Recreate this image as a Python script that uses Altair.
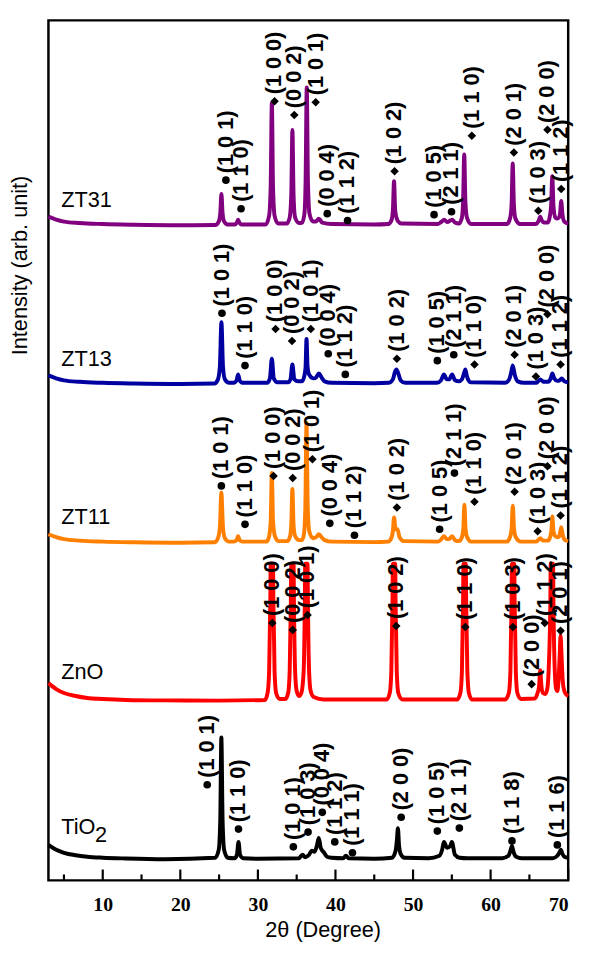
import altair as alt
import pandas as pd

# ---------------- data ----------------
series_names = ["TiO2", "ZnO", "ZT11", "ZT13", "ZT31"]
series_colors = ["#000000", "#ff0000", "#ff8000", "#0000a0", "#800080"]
series_offsets = [21, 182, 342, 503, 664]

# (2theta, intensity above the trace baseline)
tio2_pattern = [
    (3.0, 15), (4.0, 10), (5.0, 7), (6.5, 4.5), (8.0, 3), (10.0, 2), (13.0, 1.2), (18.0, 0.5),
    (24.5, 2), (24.95, 10), (25.15, 40), (25.29, 124), (25.45, 40), (25.65, 10), (26.1, 2),
    (27.0, 1.5), (27.3, 5), (27.5, 18), (27.7, 5), (28.1, 1.5), (30.0, 1),
    (35.3, 1.5), (35.75, 5), (36.1, 2.5), (36.6, 5), (36.95, 9), (37.3, 8), (37.6, 14),
    (37.85, 22), (38.1, 12), (38.55, 7), (38.9, 3), (39.5, 2), (41.0, 1.5), (41.35, 4), (41.7, 1.5),
    (45.0, 1), (47.3, 2), (47.75, 9), (47.92, 20), (48.05, 32), (48.2, 14), (48.4, 6), (48.9, 2),
    (52.0, 1.5), (53.4, 4), (53.75, 10), (53.98, 18), (54.4, 12), (54.8, 14), (55.0, 18),
    (55.4, 5), (56.0, 2), (57.0, 1.5), (61.5, 1.5), (62.3, 4), (62.55, 9), (62.75, 14),
    (62.95, 8), (63.3, 3), (64.0, 1.5), (68.0, 1.5), (68.6, 4), (68.85, 7), (69.05, 10),
    (69.25, 6), (69.5, 3), (70.0, 2),
]

zno_pattern = [
    (3.0, 18), (4.0, 12), (5.0, 8), (6.5, 5), (8.0, 3), (10.0, 2), (13.0, 1), (18.0, 0.5), (25.0, 0.3),
    (30.9, 1), (31.25, 8), (31.45, 30), (31.6, 100), (31.65, 139), (31.95, 139), (32.0, 100),
    (32.15, 30), (32.35, 8), (32.8, 2),
    (33.55, 2), (33.9, 8), (34.1, 30), (34.25, 100), (34.3, 139), (34.6, 139), (34.65, 100),
    (34.8, 30), (35.0, 10), (35.3, 5),
    (35.6, 8), (35.9, 30), (36.05, 100), (36.1, 139), (36.4, 139), (36.45, 100), (36.6, 30),
    (36.8, 10), (37.2, 4), (38.5, 1.5),
    (46.6, 1.5), (47.0, 8), (47.2, 30), (47.35, 100), (47.4, 139), (47.7, 139), (47.75, 100),
    (47.9, 30), (48.1, 8), (48.6, 1.5),
    (55.7, 1.5), (56.1, 8), (56.3, 30), (56.45, 100), (56.5, 139), (56.8, 139), (56.85, 100),
    (57.0, 30), (57.2, 8), (57.6, 1.5),
    (61.9, 1.5), (62.35, 8), (62.55, 30), (62.7, 100), (62.75, 139), (63.05, 139), (63.1, 100),
    (63.25, 30), (63.45, 8), (63.9, 2),
    (65.7, 2.5), (66.05, 8), (66.25, 15), (66.4, 31), (66.55, 15), (66.75, 8), (67.05, 7),
    (67.3, 12), (67.5, 35), (67.7, 100), (67.75, 139), (68.05, 139), (68.1, 100), (68.25, 35),
    (68.45, 12), (68.6, 10), (68.75, 20), (68.9, 45), (69.02, 66), (69.15, 45), (69.3, 20),
    (69.5, 10), (69.8, 6), (70.0, 5),
]

zt11_pattern = [
    (3.0, 9), (4.0, 6), (5.0, 4), (7.0, 2.5), (10.0, 1.5), (14.0, 0.8), (20.0, 0.3), (24.4, 0.8),
    (24.85, 5), (25.1, 16), (25.29, 51), (25.5, 16), (25.75, 5), (26.3, 1.5),
    (26.9, 1.5), (27.25, 3), (27.45, 7), (27.65, 3), (28.0, 1.5),
    (31.1, 1.5), (31.45, 7), (31.65, 22), (31.8, 71), (31.95, 22), (32.2, 7), (32.7, 2),
    (33.8, 2), (34.15, 7), (34.3, 18), (34.45, 55), (34.6, 18), (34.8, 7), (35.3, 3),
    (35.7, 3), (35.95, 10), (36.12, 38), (36.27, 122), (36.42, 38), (36.62, 12), (37.1, 5),
    (37.5, 6), (37.87, 9), (38.2, 6), (38.6, 3), (39.5, 1.5), (45.0, 1),
    (46.8, 1.5), (47.2, 5), (47.4, 12), (47.55, 26), (47.75, 14), (48.0, 14), (48.25, 6), (48.8, 2),
    (53.2, 1.5), (53.6, 3.5), (53.98, 7), (54.35, 4), (54.65, 4), (55.04, 7), (55.4, 3), (55.9, 2),
    (56.3, 6), (56.48, 14), (56.62, 39), (56.77, 14), (56.97, 6), (57.5, 1.5),
    (62.1, 1.5), (62.5, 6), (62.7, 14), (62.86, 38), (63.02, 14), (63.25, 6), (63.9, 1.5),
    (65.9, 1.5), (66.4, 5), (66.8, 2.5),
    (67.4, 2.5), (67.7, 7), (67.83, 12), (67.96, 27), (68.1, 12), (68.35, 7), (68.65, 6),
    (68.85, 7), (69.1, 16), (69.3, 8), (69.6, 3), (70.0, 2),
]

zt13_pattern = [
    (3.0, 9), (4.0, 6), (5.0, 4), (7.0, 2.5), (10.0, 1.5), (14.0, 0.8), (20.0, 0.3), (24.4, 0.8),
    (24.85, 5), (25.1, 18), (25.3, 63), (25.5, 18), (25.75, 5), (26.3, 1.5),
    (26.9, 1.5), (27.25, 4), (27.45, 10), (27.65, 4), (28.0, 1.5),
    (31.2, 1.5), (31.55, 6), (31.8, 26), (32.05, 6), (32.5, 2),
    (33.9, 2), (34.2, 5), (34.45, 20), (34.7, 5), (35.2, 3),
    (35.7, 3), (36.0, 9), (36.15, 18), (36.27, 46), (36.4, 18), (36.6, 10), (37.2, 6),
    (37.5, 7), (37.87, 11), (38.2, 7), (38.6, 3), (39.5, 1.5), (45.0, 1),
    (46.9, 1.5), (47.4, 5), (47.65, 12), (47.85, 15), (48.1, 11), (48.4, 4), (49.0, 1.5),
    (53.1, 1.5), (53.6, 4), (53.98, 10), (54.35, 5), (54.65, 5), (55.04, 10), (55.4, 4),
    (55.9, 3), (56.3, 5), (56.6, 12), (56.74, 15), (56.95, 8), (57.4, 2),
    (61.9, 1.5), (62.4, 5), (62.65, 12), (62.85, 19), (63.1, 10), (63.5, 3), (64.3, 1.5),
    (65.9, 1.5), (66.4, 5), (66.8, 2.5),
    (67.4, 2.5), (67.75, 6), (67.96, 11), (68.2, 6), (68.6, 3.5),
    (68.9, 4), (69.15, 6), (69.5, 3), (70.0, 2),
]

zt31_pattern = [
    (3.0, 9), (4.0, 6), (5.0, 4), (7.0, 2.5), (10.0, 1.5), (14.0, 0.8), (20.0, 0.3), (24.5, 0.5),
    (24.95, 4), (25.15, 12), (25.3, 32), (25.45, 12), (25.65, 4), (26.1, 1),
    (27.0, 1), (27.3, 3), (27.45, 6), (27.6, 3), (27.9, 1),
    (31.0, 1), (31.45, 10), (31.65, 40), (31.8, 124), (31.95, 40), (32.15, 10), (32.6, 2),
    (33.7, 2), (34.1, 8), (34.3, 30), (34.45, 97), (34.6, 30), (34.8, 8), (35.3, 2.5),
    (35.7, 3), (36.0, 12), (36.15, 45), (36.3, 140), (36.45, 45), (36.65, 12), (37.1, 4),
    (37.5, 4), (37.85, 7), (38.3, 3), (39.5, 1.5), (45.0, 1),
    (46.8, 1.5), (47.2, 5), (47.4, 15), (47.55, 45), (47.7, 15), (47.95, 6), (48.1, 4), (48.5, 2),
    (53.2, 1.5), (53.7, 4), (54.0, 6), (54.4, 3.5), (55.05, 6), (55.4, 3), (55.9, 2),
    (56.3, 8), (56.45, 24), (56.6, 72), (56.75, 24), (56.95, 8), (57.5, 1.5),
    (62.1, 1.5), (62.5, 7), (62.7, 21), (62.85, 63), (63.0, 21), (63.2, 7), (63.8, 1.5),
    (65.8, 1.5), (66.2, 5), (66.4, 9), (66.6, 5), (66.9, 3),
    (67.4, 3), (67.65, 10), (67.8, 20), (67.95, 50), (68.1, 20), (68.35, 8), (68.6, 7),
    (68.8, 8), (68.95, 12), (69.1, 25), (69.25, 12), (69.5, 4), (70.0, 2),
]

patterns = [tio2_pattern, zno_pattern, zt11_pattern, zt13_pattern, zt31_pattern]

# peak annotations: (phase, hkl, 2theta, height)  A = TiO2 phase (dot), Z = ZnO (diamond)
tio2_peaks = [
    ("A", "(1 0 1)", 23.47, 97), ("A", "(1 1 0)", 27.50, 52), ("A", "(1 0 1)", 34.57, 34),
    ("A", "(1 0 3)", 36.47, 49), ("A", "(0 0 4)", 38.30, 69), ("A", "(1 1 2)", 39.91, 39),
    ("A", "(1 1 1)", 42.19, 28), ("A", "(2 0 0)", 48.47, 64), ("A", "(1 0 5)", 53.13, 50),
    ("A", "(2 1 1)", 55.97, 53), ("A", "(1 1 8)", 62.75, 40), ("A", "(1 1 6)", 68.60, 36),
]
zno_peaks = [
    ("Z", "(1 0 0)", 31.86, 261), ("Z", "(0 0 2)", 34.49, 254), ("Z", "(1 0 1)", 36.40, 269),
    ("Z", "(1 0 2)", 47.83, 258), ("Z", "(1 1 0)", 56.74, 257), ("Z", "(1 0 3)", 62.88, 257),
    ("Z", "(2 0 0)", 65.29, 199), ("Z", "(1 1 2)", 66.98, 261), ("Z", "(2 0 1)", 69.02, 253),
]
zt11_peaks = [
    ("A", "(1 0 1)", 25.29, 400), ("A", "(1 1 0)", 28.34, 361), ("Z", "(1 0 0)", 32.02, 410),
    ("Z", "(0 0 2)", 34.49, 408), ("Z", "(1 0 1)", 37.03, 427), ("A", "(0 0 4)", 39.27, 362),
    ("A", "(1 1 2)", 42.45, 350), ("Z", "(1 0 2)", 47.92, 378), ("A", "(1 0 5)", 53.43, 356),
    ("A", "(2 1 1)", 55.34, 413), ("Z", "(1 1 0)", 57.92, 384), ("Z", "(2 0 1)", 63.09, 394),
    ("Z", "(1 0 3)", 66.06, 354), ("Z", "(2 0 0)", 67.33, 420), ("Z", "(1 1 2)", 69.02, 370),
]
zt13_peaks = [
    ("A", "(1 0 1)", 25.37, 575), ("A", "(1 1 0)", 28.34, 522), ("Z", "(1 0 0)", 32.28, 559),
    ("Z", "(0 0 2)", 34.40, 547), ("Z", "(1 0 1)", 36.82, 559), ("A", "(0 0 4)", 39.07, 534),
    ("A", "(1 1 2)", 41.27, 513), ("Z", "(1 0 2)", 47.92, 529), ("A", "(1 0 5)", 53.13, 527),
    ("A", "(2 1 1)", 55.25, 533), ("Z", "(1 1 0)", 57.92, 523), ("Z", "(2 0 1)", 63.09, 533),
    ("Z", "(1 0 3)", 65.84, 511), ("Z", "(2 0 0)", 67.33, 574), ("Z", "(1 1 2)", 69.02, 523),
]
zt31_peaks = [
    ("A", "(1 0 1)", 25.88, 710), ("A", "(1 1 0)", 27.83, 681), ("Z", "(1 0 0)", 32.15, 790),
    ("Z", "(0 0 2)", 34.69, 776), ("Z", "(1 0 1)", 37.45, 789), ("A", "(0 0 4)", 38.94, 676),
    ("A", "(1 1 2)", 41.56, 669), ("Z", "(1 0 2)", 47.62, 719), ("A", "(1 0 5)", 52.71, 675),
    ("A", "(2 1 1)", 54.96, 678), ("Z", "(1 1 0)", 57.58, 755), ("Z", "(2 0 1)", 63.00, 738),
    ("Z", "(1 0 3)", 66.15, 679), ("Z", "(2 0 0)", 67.33, 761), ("Z", "(1 1 2)", 69.10, 701),
]
all_peaks = tio2_peaks + zno_peaks + zt11_peaks + zt13_peaks + zt31_peaks

# sample names placed beside each trace ("2" is the subscript of TiO2)
sample_text = ["ZT31", "ZT13", "ZT11", "ZnO", "TiO", "2"]
sample_x = [4.65, 4.65, 4.65, 4.65, 4.65, 9.0]
sample_y = [683, 522, 361, 204, 47, 39]

major_ticks = [10, 20, 30, 40, 50, 60, 70]
minor_ticks = [5, 15, 25, 35, 45, 55, 65]

# ---------------- tables ----------------
rows = []
for name, off, pat in zip(series_names, series_offsets, patterns):
    for tt, inten in pat:
        rows.append({"series": name, "two_theta": tt, "intensity": inten + off})
traces = pd.DataFrame(rows)

peaks = pd.DataFrame(all_peaks, columns=["phase", "hkl", "two_theta", "intensity"])
samples = pd.DataFrame({"name": sample_text, "two_theta": sample_x, "intensity": sample_y})
majors = pd.DataFrame({"two_theta": major_ticks})
minors = pd.DataFrame({"two_theta": minor_ticks})

W, H = 527, 872
xscale = alt.Scale(domain=[3, 70], nice=False, zero=False)
yscale = alt.Scale(domain=[0, 872], nice=False, zero=False)

x_axis = alt.Axis(values=major_ticks, ticks=False, domain=False, grid=False,
                  labelFont="Liberation Serif", labelFontWeight="bold",
                  labelFontSize=20, labelColor="black", labelPadding=15,
                  title="2θ (Degree)", titleFont="Liberation Sans",
                  titleFontWeight="normal", titleFontSize=22, titleColor="black",
                  titleX=278, titleY=57, titleBaseline="alphabetic")
y_axis = alt.Axis(ticks=False, labels=False, domain=False, grid=False,
                  title="Intensity (arb. unit)", titleFont="Liberation Sans",
                  titleFontWeight="normal", titleFontSize=22, titleColor="black",
                  titleX=-29, titleY=248, titleBaseline="middle")

X = alt.X("two_theta:Q", scale=xscale, axis=x_axis, title="2θ (Degree)")
Y = alt.Y("intensity:Q", scale=yscale, axis=y_axis, title="Intensity (arb. unit)")

lines = alt.Chart(traces).mark_line(strokeWidth=4, interpolate="monotone").encode(
    x=X, y=Y,
    color=alt.Color("series:N", scale=alt.Scale(domain=series_names, range=series_colors), legend=None),
    detail="series:N",
)

markers = alt.Chart(peaks).mark_point(filled=True, opacity=1, color="black").encode(
    x=X, y=Y,
    shape=alt.Shape("phase:N", scale=alt.Scale(domain=["A", "Z"], range=["circle", "diamond"]), legend=None),
    size=alt.Size("phase:N", scale=alt.Scale(domain=["A", "Z"], range=[60, 75]), legend=None),
)

hkl_text = alt.Chart(peaks).mark_text(
    angle=270, align="left", baseline="middle", dx=7,
    font="Liberation Sans", fontWeight="bold", fontSize=22, color="black",
).encode(x=X, y=Y, text="hkl:N")

names = alt.Chart(samples).mark_text(
    align="left", baseline="alphabetic", font="Liberation Sans", fontSize=22, color="black",
).encode(x=X, y=Y, text="name:N")

major_rules = alt.Chart(majors).mark_rule(color="black", strokeWidth=2.2).encode(
    x=X, y=alt.value(H), y2=alt.value(H - 11),
)
minor_rules = alt.Chart(minors).mark_rule(color="black", strokeWidth=2.2).encode(
    x=X, y=alt.value(H), y2=alt.value(H - 6),
)

chart = alt.layer(lines, major_rules, minor_rules, markers, hkl_text, names).properties(
    width=W, height=H,
    autosize=alt.AutoSizeParams(type="none"),
    padding={"left": 41, "top": 6, "right": 14, "bottom": 62},
).configure_view(stroke="black", strokeWidth=2.5)

chart.save("out.html", embed_options={"renderer": "svg", "actions": False})
